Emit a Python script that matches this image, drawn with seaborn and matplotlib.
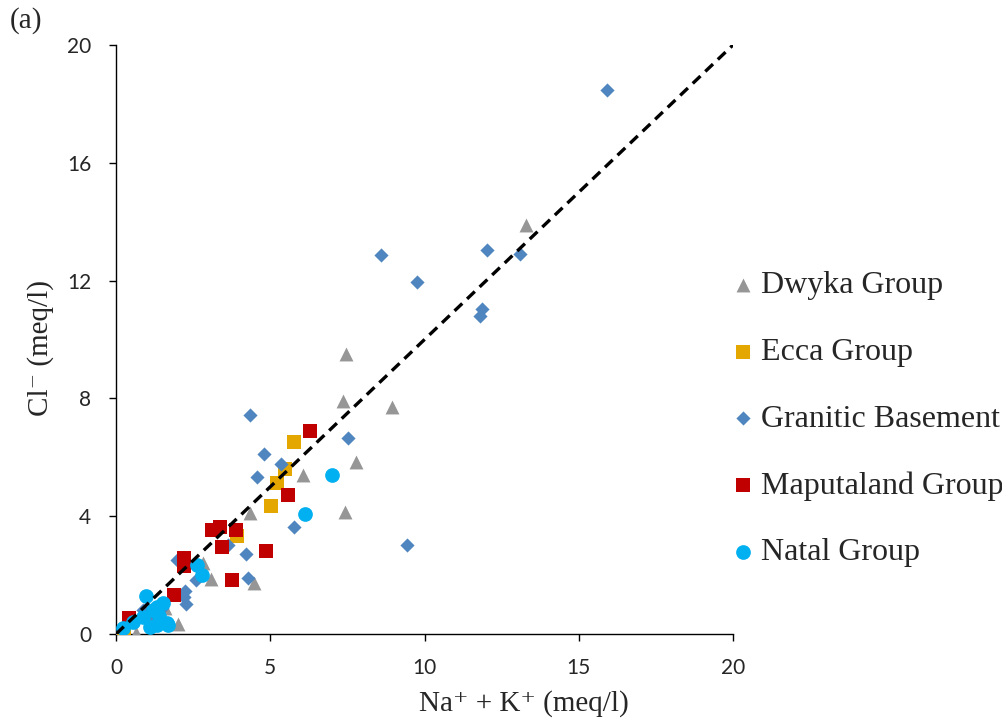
import pandas as pd
import matplotlib
matplotlib.use("Agg")
import matplotlib.pyplot as plt
import seaborn as sns

# Data (meq/l)
dwyka_x = [13.3, 7.45, 7.36, 8.96, 7.78, 6.07, 4.35, 7.41, 2.83, 3.07, 4.48, 2.0, 0.64, 0.05, 1.6]
dwyka_y = [13.9, 9.5, 7.9, 7.7, 5.83, 5.4, 4.12, 4.13, 2.42, 1.87, 1.72, 0.35, 0.02, 0.0, 0.9]

ecca_x = [5.76, 5.48, 5.21, 5.01, 3.92, 0.27]
ecca_y = [6.53, 5.61, 5.14, 4.36, 3.33, 0.0]

granitic_x = [15.9, 8.58, 9.76, 12.02, 13.1, 11.85, 11.8, 4.35, 7.53, 4.81, 5.34, 4.57,
              5.78, 9.42, 3.64, 4.2, 1.99, 2.58, 4.27, 2.24, 2.2, 2.28, 0.88, 1.2, 1.5]
granitic_y = [18.47, 12.87, 11.94, 13.04, 12.9, 11.03, 10.8, 7.44, 6.67, 6.11, 5.78, 5.32,
              3.64, 3.02, 3.02, 2.71, 2.51, 1.84, 1.91, 1.46, 1.27, 1.03, 0.8, 0.6, 0.9]

maputaland_x = [6.28, 5.58, 3.12, 3.37, 3.88, 3.43, 4.86, 2.19, 2.19, 3.77, 1.87, 0.42]
maputaland_y = [6.89, 4.71, 3.52, 3.64, 3.53, 2.97, 2.83, 2.59, 2.31, 1.83, 1.33, 0.56]

natal_x = [7.01, 6.12, 2.63, 2.79, 0.97, 1.32, 1.53, 1.64, 1.7, 1.32, 1.1, 0.24, 0.56, 0.88, 1.21, 1.4]
natal_y = [5.4, 4.07, 2.34, 2.02, 1.29, 0.93, 1.04, 0.36, 0.31, 0.31, 0.25, 0.2, 0.42, 0.59, 0.81, 0.6]

line_x = [0, 20]
line_y = [0, 20]

groups = ["Dwyka Group", "Ecca Group", "Granitic Basement", "Maputaland Group", "Natal Group"]
xs = [dwyka_x, ecca_x, granitic_x, maputaland_x, natal_x]
ys = [dwyka_y, ecca_y, granitic_y, maputaland_y, natal_y]
colors = ["#969696", "#E3A700", "#4F86C0", "#C00000", "#00B0F0"]
markers = ["^", "s", "D", "s", "o"]
sizes = [100, 105, 52, 105, 112]

sns.set_style("ticks")
serif = ["Liberation Serif", "DejaVu Serif"]
sans = ["Lato", "DejaVu Sans"]

fig = plt.figure(figsize=(10.03, 7.2), dpi=100)
ax = fig.add_axes([0.1157, 0.1194, 0.6151, 0.8181])

for i, g in enumerate(groups):
    df = pd.DataFrame({"x": xs[i], "y": ys[i]})
    sns.scatterplot(data=df, x="x", y="y", color=colors[i], marker=markers[i],
                    s=sizes[i], linewidth=0, label=g, ax=ax, zorder=3 + i)

ax.plot(line_x, line_y, color="black", lw=2.4, linestyle=(0, (3.2, 2)), zorder=10)

ax.set_xlim(0, 20)
ax.set_ylim(0, 20)
ax.set_xticks([0, 5, 10, 15, 20])
ax.set_yticks([0, 4, 8, 12, 16, 20])
sns.despine(ax=ax)
for sp in ["left", "bottom"]:
    ax.spines[sp].set_linewidth(1.0)
    ax.spines[sp].set_color("black")
ax.tick_params(axis="both", direction="out", length=5, width=1.0, color="black")
ax.tick_params(axis="y", pad=13)
ax.tick_params(axis="x", pad=12)
for lab in ax.get_xticklabels() + ax.get_yticklabels():
    lab.set_fontfamily(sans)
    lab.set_fontsize(15)

ax.set_xlabel("Na\u207a + K\u207a (meq/l)", fontsize=21, family=serif)
ax.set_ylabel("Cl\u207b (meq/l)", fontsize=21, family=serif)
ax.xaxis.set_label_coords(0.661, -0.095)
ax.yaxis.set_label_coords(-0.10, 0.486)

fig.text(0.01, 0.99, "(a)", fontsize=21, family=serif, va="top", ha="left")

ax.legend(loc="center left", bbox_to_anchor=(0.733, 0.418), bbox_transform=fig.transFigure,
          frameon=False, prop={"family": serif, "size": 23}, handlelength=0.5,
          handletextpad=0.3, borderpad=0, borderaxespad=0, labelspacing=1.17)

fig.savefig("out.png", dpi=100)
